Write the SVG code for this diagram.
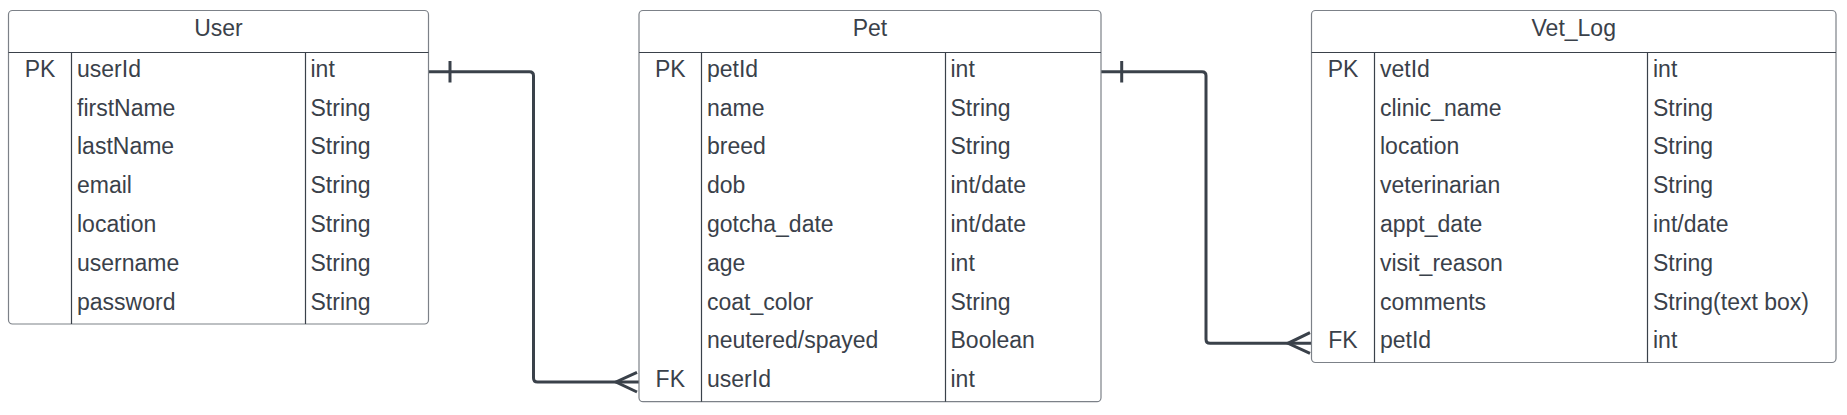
<svg xmlns="http://www.w3.org/2000/svg" width="1847" height="415" viewBox="0 0 1847 415">
<style>
.box{fill:#ffffff;stroke:#7c8188;stroke-width:1.2}
.div{stroke:#3a414a;stroke-width:1.2;fill:none}
text{font-family:"Liberation Sans",Arial,sans-serif;font-size:23px;fill:#3a414a}
.t{text-anchor:middle}
.k{text-anchor:middle}
.conn{fill:none;stroke:#3a414a;stroke-width:3;stroke-linecap:butt}
</style>
<rect width="1847" height="415" fill="#ffffff"/>
<g id="connectors">
<path class="conn" d="M428.5 71.7 H529.5 Q533.5 71.7 533.5 75.7 V378 Q533.5 382 537.5 382 H639"/>
<line class="conn" x1="450" y1="61" x2="450" y2="82.5"/>
<path class="conn" d="M637 372.3 L616 382 L637 392"/>
<path class="conn" d="M1101 71.7 H1202 Q1206 71.7 1206 75.7 V339.3 Q1206 343.3 1210 343.3 H1311.5"/>
<line class="conn" x1="1121.7" y1="61" x2="1121.7" y2="82.5"/>
<path class="conn" d="M1310 332.7 L1288 343.3 L1310 353.3"/>
</g>
<g id="User">
<rect class="box" x="8.5" y="10.5" width="420" height="313.5" rx="4"/>
<line class="div" x1="8.5" y1="52.5" x2="428.5" y2="52.5"/>
<line class="div" x1="71.5" y1="52.5" x2="71.5" y2="324"/>
<line class="div" x1="305.5" y1="52.5" x2="305.5" y2="324"/>
<text class="t" x="218.5" y="36">User</text>
<text class="k" x="40" y="76.7">PK</text>
<text x="77" y="76.7">userId</text><text x="310.5" y="76.7">int</text>
<text x="77" y="115.5">firstName</text><text x="310.5" y="115.5">String</text>
<text x="77" y="154.3">lastName</text><text x="310.5" y="154.3">String</text>
<text x="77" y="193.1">email</text><text x="310.5" y="193.1">String</text>
<text x="77" y="231.9">location</text><text x="310.5" y="231.9">String</text>
<text x="77" y="270.7">username</text><text x="310.5" y="270.7">String</text>
<text x="77" y="309.5">password</text><text x="310.5" y="309.5">String</text>
</g>
<g id="Pet">
<rect class="box" x="639" y="10.5" width="462" height="391.2" rx="4"/>
<line class="div" x1="639" y1="52.5" x2="1101" y2="52.5"/>
<line class="div" x1="701.5" y1="52.5" x2="701.5" y2="401.7"/>
<line class="div" x1="945.5" y1="52.5" x2="945.5" y2="401.7"/>
<text class="t" x="870" y="36">Pet</text>
<text class="k" x="670.3" y="76.7">PK</text>
<text x="707" y="76.7">petId</text><text x="950.5" y="76.7">int</text>
<text x="707" y="115.5">name</text><text x="950.5" y="115.5">String</text>
<text x="707" y="154.3">breed</text><text x="950.5" y="154.3">String</text>
<text x="707" y="193.1">dob</text><text x="950.5" y="193.1">int/date</text>
<text x="707" y="231.9">gotcha_date</text><text x="950.5" y="231.9">int/date</text>
<text x="707" y="270.7">age</text><text x="950.5" y="270.7">int</text>
<text x="707" y="309.5">coat_color</text><text x="950.5" y="309.5">String</text>
<text x="707" y="348.3">neutered/spayed</text><text x="950.5" y="348.3">Boolean</text>
<text class="k" x="670.3" y="387.1">FK</text>
<text x="707" y="387.1">userId</text><text x="950.5" y="387.1">int</text>
</g>
<g id="Vet_Log">
<rect class="box" x="1311.5" y="10.5" width="524.5" height="352" rx="4"/>
<line class="div" x1="1311.5" y1="52.5" x2="1836" y2="52.5"/>
<line class="div" x1="1374.5" y1="52.5" x2="1374.5" y2="362.5"/>
<line class="div" x1="1647.5" y1="52.5" x2="1647.5" y2="362.5"/>
<text class="t" x="1573.75" y="36">Vet_Log</text>
<text class="k" x="1343" y="76.7">PK</text>
<text x="1380" y="76.7">vetId</text><text x="1653" y="76.7">int</text>
<text x="1380" y="115.5">clinic_name</text><text x="1653" y="115.5">String</text>
<text x="1380" y="154.3">location</text><text x="1653" y="154.3">String</text>
<text x="1380" y="193.1">veterinarian</text><text x="1653" y="193.1">String</text>
<text x="1380" y="231.9">appt_date</text><text x="1653" y="231.9">int/date</text>
<text x="1380" y="270.7">visit_reason</text><text x="1653" y="270.7">String</text>
<text x="1380" y="309.5">comments</text><text x="1653" y="309.5">String(text box)</text>
<text class="k" x="1343" y="348.3">FK</text>
<text x="1380" y="348.3">petId</text><text x="1653" y="348.3">int</text>
</g>
</svg>
